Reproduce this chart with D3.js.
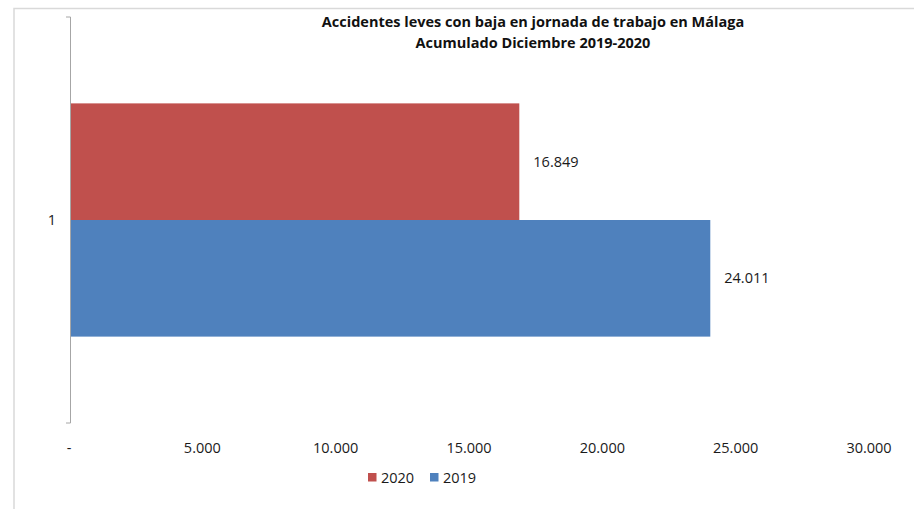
<!DOCTYPE html>
<html>
<head>
<meta charset="utf-8">
<script src="https://cdn.jsdelivr.net/npm/d3@7"></script>
<style>
    body { margin: 0; background: #fff; }
    svg { font-family: "Open Sans", sans-serif; }
</style>
</head>
<body>
<svg id="chart" width="914" height="509"></svg>
<script>
const categories = ["1"];
const seriesNames = ["2020", "2019"];
const values2020 = [16849];
const values2019 = [24011];
const xTicks = [0, 5000, 10000, 15000, 20000, 25000, 30000];
const titleLines = ["Accidentes leves con baja en jornada de trabajo en Málaga", "Acumulado Diciembre 2019-2020"];
const colors = { "2020": "#C0504D", "2019": "#4F81BD" };

const svg = d3.select("#chart");
const margin = { top: 16.5, right: 44, bottom: 85.5, left: 70 };
const width = 914 - margin.left - margin.right;
const height = 509 - margin.top - margin.bottom;

// chart frame (only top and left edges visible in the picture)
svg.append("path")
    .attr("d", "M14,509 L14,8.5 L914,8.5")
    .attr("fill", "none")
    .attr("stroke", "#d9d9d9")
    .attr("stroke-width", 1.5);

const fmt = v => v === 0 ? "-" : d3.format(",")(v).replace(/,/g, ".");

const x = d3.scaleLinear().domain([0, 30000]).range([0, width]);
const y = d3.scaleBand().domain(categories).range([0, height]).paddingInner(0).paddingOuter(0);
const inner = d3.scaleBand().domain(seriesNames).range([0, y.bandwidth()]).paddingInner(0).paddingOuter(0.745);

const chart = svg.append("g").attr("transform", `translate(${margin.left},${margin.top})`);

// y axis: line with boundary ticks only
const yAxis = chart.append("g");
yAxis.append("path")
    .attr("d", `M-4,0.5 H0.5 V${height - 0.5} H-4`)
    .attr("fill", "none")
    .attr("stroke", "#a6a6a6")
    .attr("stroke-width", 1);
yAxis.selectAll(".cat")
    .data(categories)
    .enter().append("text")
    .attr("x", -14)
    .attr("y", d => y(d) + y.bandwidth() / 2)
    .attr("dy", "0.35em")
    .attr("text-anchor", "end")
    .attr("font-size", 14.5)
    .attr("fill", "#1a1a1a")
    .text(d => d);

// x axis labels only
const xAxis = d3.axisBottom(x).tickValues(xTicks).tickFormat(fmt).tickSize(0).tickPadding(0);
const xg = chart.append("g")
    .attr("transform", `translate(-1.5,${height + 19})`)
    .call(xAxis);
xg.select(".domain").remove();
xg.selectAll("text")
    .attr("font-family", "'Open Sans', sans-serif")
    .attr("font-size", 14.5)
    .attr("fill", "#1a1a1a");

const rows = [];
categories.forEach((c, i) => {
    rows.push({ cat: c, series: "2020", value: values2020[i] });
    rows.push({ cat: c, series: "2019", value: values2019[i] });
});

chart.selectAll(".bar")
    .data(rows)
    .enter().append("rect")
    .attr("class", "bar")
    .attr("x", 1)
    .attr("y", d => y(d.cat) + inner(d.series))
    .attr("width", d => x(d.value) - 1)
    .attr("height", inner.bandwidth())
    .attr("fill", d => colors[d.series]);

chart.selectAll(".lbl")
    .data(rows)
    .enter().append("text")
    .attr("x", d => x(d.value) + 14)
    .attr("y", d => y(d.cat) + inner(d.series) + inner.bandwidth() / 2)
    .attr("dy", "0.35em")
    .attr("font-size", 14.5)
    .attr("fill", "#1a1a1a")
    .text(d => fmt(d.value));

// title
svg.append("g").selectAll("text")
    .data(titleLines)
    .enter().append("text")
    .attr("x", 533)
    .attr("y", (d, i) => 27 + i * 21)
    .attr("text-anchor", "middle")
    .attr("font-size", 14.5)
    .attr("font-weight", "bold")
    .attr("fill", "#111")
    .text(d => d);

// legend
const legend = svg.append("g").attr("transform", "translate(368,473)");
const items = legend.selectAll("g")
    .data(seriesNames)
    .enter().append("g")
    .attr("transform", (d, i) => `translate(${i * 62},0)`);
items.append("rect")
    .attr("width", 8.5)
    .attr("height", 8.5)
    .attr("fill", d => colors[d]);
items.append("text")
    .attr("x", 13)
    .attr("y", 4.5)
    .attr("dy", "0.35em")
    .attr("font-size", 14.5)
    .attr("fill", "#1a1a1a")
    .text(d => d);
</script>
</body>
</html>
